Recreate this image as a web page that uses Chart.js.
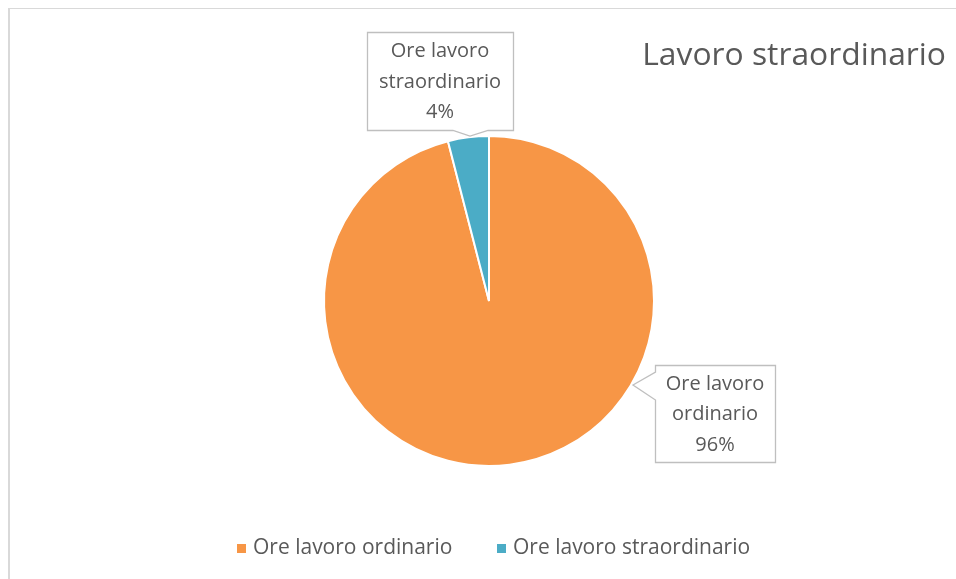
<!DOCTYPE html>
<html>
<head>
<meta charset="utf-8">
<script src="https://cdn.jsdelivr.net/npm/chart.js@4.4.0/dist/chart.umd.min.js"></script>
<style>
  html, body { margin: 0; padding: 0; background: #ffffff; }
  canvas { display: block; }
</style>
</head>
<body>
<canvas id="c" width="956" height="579"></canvas>
<script>
const chartTitle = "Lavoro straordinario";
const categories = ["Ore lavoro ordinario", "Ore lavoro straordinario"];
const labelLines = [["Ore lavoro", "ordinario"], ["Ore lavoro", "straordinario"]];
const values = [96, 4];
const colors = ["#F79646", "#4BACC6"];

const FONT = "'Open Sans', sans-serif";
const TEXT_COLOR = "#595959";

// callout boxes (style/layout)
const callouts = [
  { box: [655, 365, 775, 462], pointer: { side: "left", a: 372, b: 400, tip: [633, 385] } },
  { box: [367, 32, 513, 130], pointer: { side: "bottom", a: 453, b: 488, tip: [470, 136] } }
];

const decorPlugin = {
  id: "decor",
  afterDraw(chart) {
    const ctx = chart.ctx;
    ctx.save();
    // outer frame
    ctx.fillStyle = "#d9d9d9";
    ctx.fillRect(8, 8, 2, 579 - 8);
    ctx.fillRect(8, 8, 956 - 8, 1);

    // title
    ctx.fillStyle = TEXT_COLOR;
    ctx.font = "31.8px " + FONT;
    ctx.textAlign = "right";
    ctx.textBaseline = "middle";
    ctx.fillText(chartTitle, 946, 56);

    // callouts
    const total = values.reduce((a, b) => a + b, 0);
    callouts.forEach((c, i) => {
      const [x1, y1, x2, y2] = c.box;
      const p = c.pointer;
      ctx.beginPath();
      if (p.side === "left") {
        ctx.moveTo(x1 + 0.5, y1 + 0.5);
        ctx.lineTo(x2 + 0.5, y1 + 0.5);
        ctx.lineTo(x2 + 0.5, y2 + 0.5);
        ctx.lineTo(x1 + 0.5, y2 + 0.5);
        ctx.lineTo(x1 + 0.5, p.b);
        ctx.lineTo(p.tip[0], p.tip[1]);
        ctx.lineTo(x1 + 0.5, p.a);
        ctx.closePath();
      } else {
        ctx.moveTo(x1 + 0.5, y1 + 0.5);
        ctx.lineTo(x2 + 0.5, y1 + 0.5);
        ctx.lineTo(x2 + 0.5, y2 + 0.5);
        ctx.lineTo(p.b, y2 + 0.5);
        ctx.lineTo(p.tip[0], p.tip[1]);
        ctx.lineTo(p.a, y2 + 0.5);
        ctx.lineTo(x1 + 0.5, y2 + 0.5);
        ctx.closePath();
      }
      ctx.fillStyle = "#ffffff";
      ctx.fill();
      ctx.strokeStyle = "#BFBFBF";
      ctx.lineWidth = 1.3;
      ctx.stroke();

      const lines = labelLines[i].concat([Math.round(values[i] / total * 100) + "%"]);
      ctx.fillStyle = TEXT_COLOR;
      ctx.font = "20px " + FONT;
      ctx.textAlign = "center";
      ctx.textBaseline = "middle";
      const cx = (x1 + x2) / 2;
      const cy = (y1 + y2) / 2 + 1;
      const lh = 30.5;
      lines.forEach((t, k) => {
        ctx.fillText(t, cx, cy + (k - (lines.length - 1) / 2) * lh);
      });
    });

    // legend
    const legendX = [237, 497];
    const legendY = 548;
    ctx.font = "21px " + FONT;
    ctx.textAlign = "left";
    ctx.textBaseline = "middle";
    categories.forEach((name, i) => {
      ctx.fillStyle = colors[i];
      ctx.fillRect(legendX[i], legendY - 4, 9, 9);
      ctx.fillStyle = TEXT_COLOR;
      ctx.fillText(name, legendX[i] + 16, legendY);
    });
    ctx.restore();
  }
};

new Chart(document.getElementById("c"), {
  type: "pie",
  data: {
    labels: categories,
    datasets: [{
      data: values,
      backgroundColor: colors,
      borderColor: "#ffffff",
      borderWidth: 2
    }]
  },
  options: {
    responsive: false,
    animation: false,
    events: [],
    layout: { padding: { top: 135, bottom: 112, left: 22, right: 0 } },
    plugins: {
      legend: { display: false },
      title: { display: false },
      tooltip: { enabled: false }
    }
  },
  plugins: [decorPlugin]
});
</script>
</body>
</html>
